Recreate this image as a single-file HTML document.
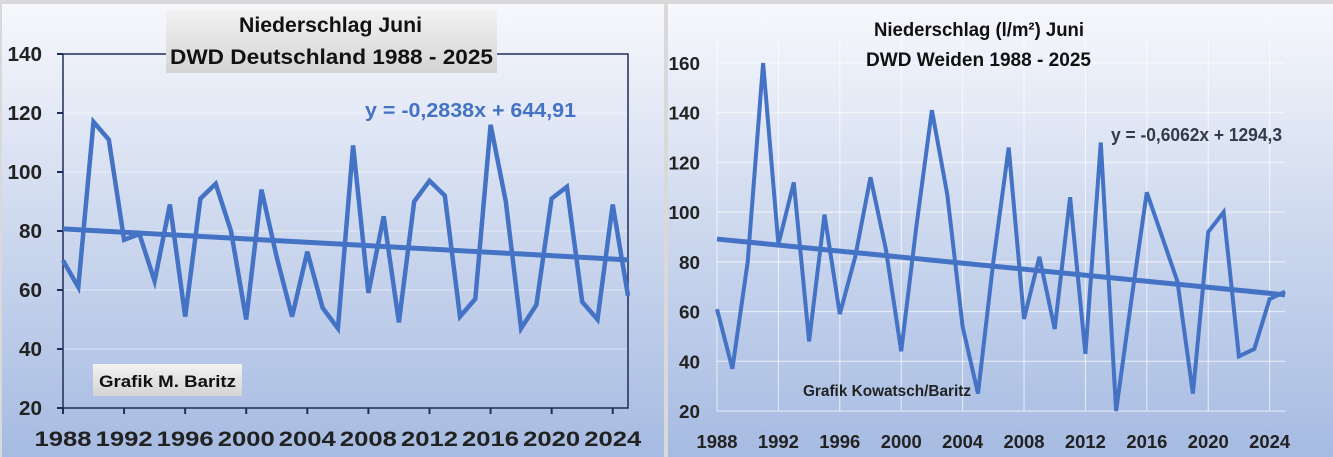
<!DOCTYPE html>
<html><head><meta charset="utf-8"><style>
body{margin:0;width:1333px;height:457px;overflow:hidden;background:#d9d9d9;font-family:"Liberation Sans",sans-serif}
svg{display:block}
</style></head><body>
<svg id="c" width="1333" height="457" xmlns="http://www.w3.org/2000/svg">
<defs>
<linearGradient id="bg" x1="0" y1="0" x2="0" y2="1"><stop offset="0" stop-color="#f7f8fc"/><stop offset="0.5" stop-color="#cdd8ee"/><stop offset="1" stop-color="#a6bbe2"/></linearGradient>
<linearGradient id="box" x1="0" y1="0" x2="0" y2="1"><stop offset="0" stop-color="#f2f2f2"/><stop offset="1" stop-color="#d4d4d4"/></linearGradient>
</defs>
<rect x="2" y="4" width="662" height="453" fill="url(#bg)"/>
<rect x="668" y="4" width="665" height="453" fill="url(#bg)"/>
<g id="L"></g><g id="R"></g>
</svg>
<script>
const years=[];for(let y=1988;y<=2025;y++)years.push(y);
const deValues=[70,61,117,111,77,79,63,89,51,91,96,80,50,94,71,51,73,54,47,109,59,85,49,90,97,92,51,57,116,90,47,55,91,95,56,50,89,58];
const weValues=[61,37,80,160,87,112,48,99,59,82,114,85,44,95,141,107,54,27,80,126,57,82,53,106,43,128,20,65,108,90,72,27,92,100,42,45,65,68];
const deTrend=[-0.2838,644.91];
const weTrend=[-0.6062,1294.3];
const xTicks=[1988,1992,1996,2000,2004,2008,2012,2016,2020,2024];
const deYTicks=[20,40,60,80,100,120,140];
const weYTicks=[20,40,60,80,100,120,140,160];
const NS="http://www.w3.org/2000/svg";
function mk(p,t,a){const e=document.createElementNS(NS,t);for(const k in a)e.setAttribute(k,a[k]);p.appendChild(e);return e;}
function draw(gid,vals,trend,yT,x0,x1,y0,y1,ymin,ymax,left){
 const g=document.getElementById(gid);
 const X=v=>x0+(v-1988)/(2025-1988)*(x1-x0);
 const Y=v=>y1-(v-ymin)/(ymax-ymin)*(y1-y0);
 yT.forEach(t=>{const l=mk(g,'line',{x1:x0,x2:x1,y1:Y(t),y2:Y(t),stroke:'#ffffff','stroke-opacity':left?0.5:0.7,'stroke-width':1});
  
  const s=String(t);
  const tx=mk(g,'text',{x:left?x0-21:x0-17,y:Y(t)+7,'text-anchor':'end','font-size':left?20:18,'font-weight':'bold',fill:'#222',textLength:(left?11.5:10.5)*s.length,lengthAdjust:'spacingAndGlyphs'});tx.textContent=s;
  });
 xTicks.forEach(t=>{
  if(!left){const l=mk(g,'line',{x1:X(t),x2:X(t),y1:y0-25,y2:y1,stroke:'#ffffff','stroke-opacity':0.7});
   }
  else{const tk=mk(g,'line',{x1:X(t),x2:X(t),y1:y1,y2:y1+6,stroke:'#1f2d5a','stroke-width':2});
   }
  const tx=mk(g,'text',{x:X(t),y:y1+(left?38:37),'text-anchor':'middle','font-size':left?21:18,'font-weight':'bold',fill:'#222',textLength:left?57:41,lengthAdjust:'spacingAndGlyphs'});tx.textContent=t;
  });
 if(left){
  const ax=mk(g,'path',{d:`M${x0},${y0} V${y1} H${x1} V${y0} H${x0}`,fill:'none',stroke:'#1f2d5a','stroke-width':1.5});
  
  yT.forEach(t=>{const k=mk(g,'line',{x1:x0-6,x2:x0,y1:Y(t),y2:Y(t),stroke:'#1f2d5a','stroke-width':2});
   });
 }
 const pts=vals.map((v,i)=>X(years[i]).toFixed(1)+','+Y(v).toFixed(1)).join(' ');
 const pl=mk(g,'polyline',{points:pts,fill:'none',stroke:'#4472c4','stroke-width':left?4.5:4,'stroke-linejoin':'miter'});
 
 const ta=trend[0]*1988+trend[1],tb=trend[0]*2025+trend[1];
 const tl=mk(g,'line',{x1:X(1988),y1:Y(ta),x2:X(2025),y2:Y(tb),stroke:'#4472c4','stroke-width':5});
 
}
draw('L',deValues,deTrend,deYTicks,63,628,54,408,20,140,true);
draw('R',weValues,weTrend,weYTicks,717,1285,63,411,20,160,false);
const L=document.getElementById('L'),R=document.getElementById('R');
let e;
e=mk(L,'rect',{x:166,y:10,width:331,height:63,fill:'url(#box)'});

e=mk(L,'text',{x:239,y:32,'font-size':21,'font-weight':'bold',fill:'#111',textLength:183,lengthAdjust:'spacingAndGlyphs'});e.textContent='Niederschlag Juni';

e=mk(L,'text',{x:170,y:64,'font-size':21,'font-weight':'bold',fill:'#111',textLength:323,lengthAdjust:'spacingAndGlyphs'});e.textContent='DWD Deutschland 1988 - 2025';

e=mk(L,'text',{x:365,y:117,'font-size':20,'font-weight':'bold',fill:'#4472c4',textLength:211,lengthAdjust:'spacingAndGlyphs'});e.textContent='y = -0,2838x + 644,91';

e=mk(L,'rect',{x:93,y:364,width:149,height:32,fill:'url(#box)'});

e=mk(L,'text',{x:99,y:387,'font-size':17,'font-weight':'bold',fill:'#111',textLength:137,lengthAdjust:'spacingAndGlyphs'});e.textContent='Grafik M. Baritz';

e=mk(R,'text',{x:874,y:36,'font-size':19,'font-weight':'bold',fill:'#111',textLength:210,lengthAdjust:'spacingAndGlyphs'});e.textContent='Niederschlag (l/m²) Juni';

e=mk(R,'text',{x:866,y:66,'font-size':19,'font-weight':'bold',fill:'#111',textLength:225,lengthAdjust:'spacingAndGlyphs'});e.textContent='DWD Weiden 1988 - 2025';

e=mk(R,'text',{x:1111,y:141,'font-size':18,'font-weight':'bold',fill:'#333a4a',textLength:171,lengthAdjust:'spacingAndGlyphs'});e.textContent='y = -0,6062x + 1294,3';

e=mk(R,'text',{x:803,y:396,'font-size':16,'font-weight':'bold',fill:'#222',textLength:168,lengthAdjust:'spacingAndGlyphs'});e.textContent='Grafik Kowatsch/Baritz';

</script>
</body></html>
